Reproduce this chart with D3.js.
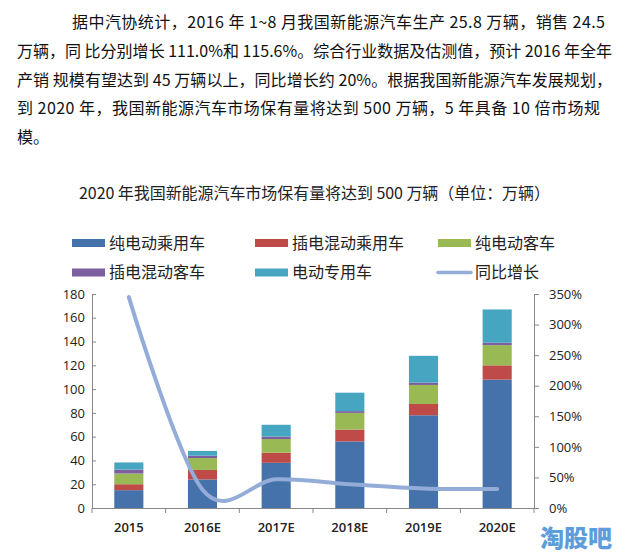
<!DOCTYPE html>
<html><head><meta charset="utf-8">
<script src="https://cdn.jsdelivr.net/npm/d3@7"></script>
<style>
html,body{margin:0;padding:0;background:#fff;}
svg{display:block;}
</style></head>
<body>
<svg id="chart" width="625" height="559"></svg>
<script>
// ---- data ----
const paragraph = [
  "据中汽协统计，2016 年 1~8 月我国新能源汽车生产 25.8 万辆，销售 24.5",
  "万辆，同 比分别增长 111.0%和 115.6%。综合行业数据及估测值，预计 2016 年全年",
  "产销 规模有望达到 45 万辆以上，同比增长约 20%。根据我国新能源汽车发展规划，",
  "到 2020 年，我国新能源汽车市场保有量将达到 500 万辆，5 年具备 10 倍市场规",
  "模。"
];
const title = "2020 年我国新能源汽车市场保有量将达到 500 万辆（单位：万辆）";
const categories = ["2015", "2016E", "2017E", "2018E", "2019E", "2020E"];
const seriesNames = ["纯电动乘用车", "插电混动乘用车", "纯电动客车", "插电混动客车", "电动专用车"];
const bevPassenger  = [15, 24, 38, 56, 78, 108];
const phevPassenger = [5, 8, 8.5, 10, 9.5, 12];
const bevBus        = [9, 10, 11.5, 14, 16, 17];
const phevBus       = [3.3, 2, 2, 1.5, 2, 2];
const specialEV     = [6, 4, 10, 15.5, 22.5, 28];
const lineName = "同比增长";
const growth = [3.45, 0.30, 0.47, 0.39, 0.32, 0.31];
const leftTicks = [0, 20, 40, 60, 80, 100, 120, 140, 160, 180];
const rightTicks = [0, 0.5, 1, 1.5, 2, 2.5, 3, 3.5];
const watermark = "淘股吧";

// ---- styles ----
const colors = ["#4672ab", "#be4b48", "#98b954", "#7d5fa0", "#46a5c0"];
const lineColor = "#93acd8";
const cjk = "'Noto Sans CJK SC', 'Noto Sans', sans-serif";
const latin = "'Open Sans', 'Noto Sans', sans-serif";

const svg = d3.select("#chart");

// paragraph
const paraX = [72, 17, 17, 17, 17];
const paraW = [533, 595, 595, 583, null];
const paraY = [28, 57, 86, 114, 143];
paragraph.forEach((t, i) => {
  const tx = svg.append("text")
    .attr("x", paraX[i]).attr("y", paraY[i])
    .attr("font-family", cjk).attr("font-size", 16).attr("fill", "#111")
    .text(t);
  if (paraW[i]) tx.attr("textLength", paraW[i]).attr("lengthAdjust", "spacing");
});

// title
svg.append("text").attr("x", 79).attr("y", 199)
  .attr("font-family", cjk).attr("font-size", 16).attr("fill", "#222")
  .attr("textLength", 471).attr("lengthAdjust", "spacing")
  .text(title);

// legend
const legendItems = seriesNames.map((n, i) => ({name: n, type: "rect", color: colors[i]}))
  .concat([{name: lineName, type: "line", color: lineColor}]);
const legX = [72, 255, 438];
const legY = [243, 272.5];
legendItems.forEach((d, i) => {
  const col = i % 3, row = Math.floor(i / 3);
  const g = svg.append("g").attr("transform", `translate(${legX[col]},${legY[row]})`);
  if (d.type === "rect") {
    g.append("rect").attr("x", 0).attr("y", -4).attr("width", 33).attr("height", 8).attr("fill", d.color);
  } else {
    g.append("line").attr("x1", 0).attr("x2", 33).attr("y1", 0).attr("y2", 0)
      .attr("stroke", d.color).attr("stroke-width", 3.5).attr("stroke-linecap", "round");
  }
  g.append("text").attr("x", 37).attr("y", 5.5)
    .attr("font-family", cjk).attr("font-size", 16).attr("fill", "#222")
    .text(d.name);
});

// scales
const x0 = 92, x1 = 534, yBase = 508, yTop = 294;
const x = d3.scaleBand().domain(categories).range([x0, x1]).padding(0);
const y = d3.scaleLinear().domain([0, 180]).range([yBase, yTop]);
const y2 = d3.scaleLinear().domain([0, 3.5]).range([yBase, yTop]);
const barW = x.bandwidth() * 0.395;

// stacked bars
const table = categories.map((c, i) => ({
  cat: c, s0: bevPassenger[i], s1: phevPassenger[i], s2: bevBus[i], s3: phevBus[i], s4: specialEV[i]
}));
const stack = d3.stack().keys(["s0", "s1", "s2", "s3", "s4"])(table);
svg.append("g").selectAll("g").data(stack).join("g")
  .attr("fill", (d, i) => colors[i])
  .selectAll("rect").data(d => d).join("rect")
  .attr("x", d => x(d.data.cat) + x.bandwidth() / 2 - barW / 2)
  .attr("width", barW)
  .attr("y", d => y(d[1]))
  .attr("height", d => y(d[0]) - y(d[1]));

// axes
const axisColor = "#888";
const gl = svg.append("g").attr("transform", `translate(${x0},0)`)
  .call(d3.axisLeft(y).tickValues(leftTicks).tickSizeInner(-4).tickSizeOuter(0).tickPadding(7));
gl.selectAll("text").attr("font-family", latin).attr("font-size", 13).attr("fill", "#222");
const gr = svg.append("g").attr("transform", `translate(${x1},0)`)
  .call(d3.axisRight(y2).tickValues(rightTicks).tickFormat(d3.format(".0%")).tickSizeInner(5).tickSizeOuter(0).tickPadding(10));
gr.selectAll("text").attr("font-family", latin).attr("font-size", 13).attr("fill", "#222");
const gb = svg.append("g").attr("transform", `translate(0,${yBase})`)
  .call(d3.axisBottom(x).tickSize(0).tickPadding(15));
gb.selectAll("text").attr("font-family", latin).attr("font-size", 13).attr("font-weight", 600).attr("fill", "#222");
// category boundary ticks
const bounds = categories.map(c => x(c)).concat([x1]);
svg.append("g").selectAll("line").data(bounds).join("line")
  .attr("x1", d => d).attr("x2", d => d).attr("y1", yBase).attr("y2", yBase + 5)
  .attr("stroke", axisColor);
[gl, gr, gb].forEach(g => { g.selectAll("path, line").attr("stroke", axisColor); g.select(".domain").attr("stroke", axisColor); });

// growth line
const line = d3.line()
  .x((d, i) => x(categories[i]) + x.bandwidth() / 2)
  .y(d => y2(d))
  .curve(d3.curveCardinal.tension(0));
svg.append("path").datum(growth).attr("d", line)
  .attr("fill", "none").attr("stroke", lineColor).attr("stroke-width", 4).attr("stroke-linecap", "round");

// watermark
svg.append("text").attr("x", 540).attr("y", 547)
  .attr("font-family", cjk).attr("font-size", 24).attr("font-weight", 900)
  .attr("fill", "#5d9ddb").attr("textLength", 72).attr("lengthAdjust", "spacing")
  .text(watermark);
</script>
</body></html>
